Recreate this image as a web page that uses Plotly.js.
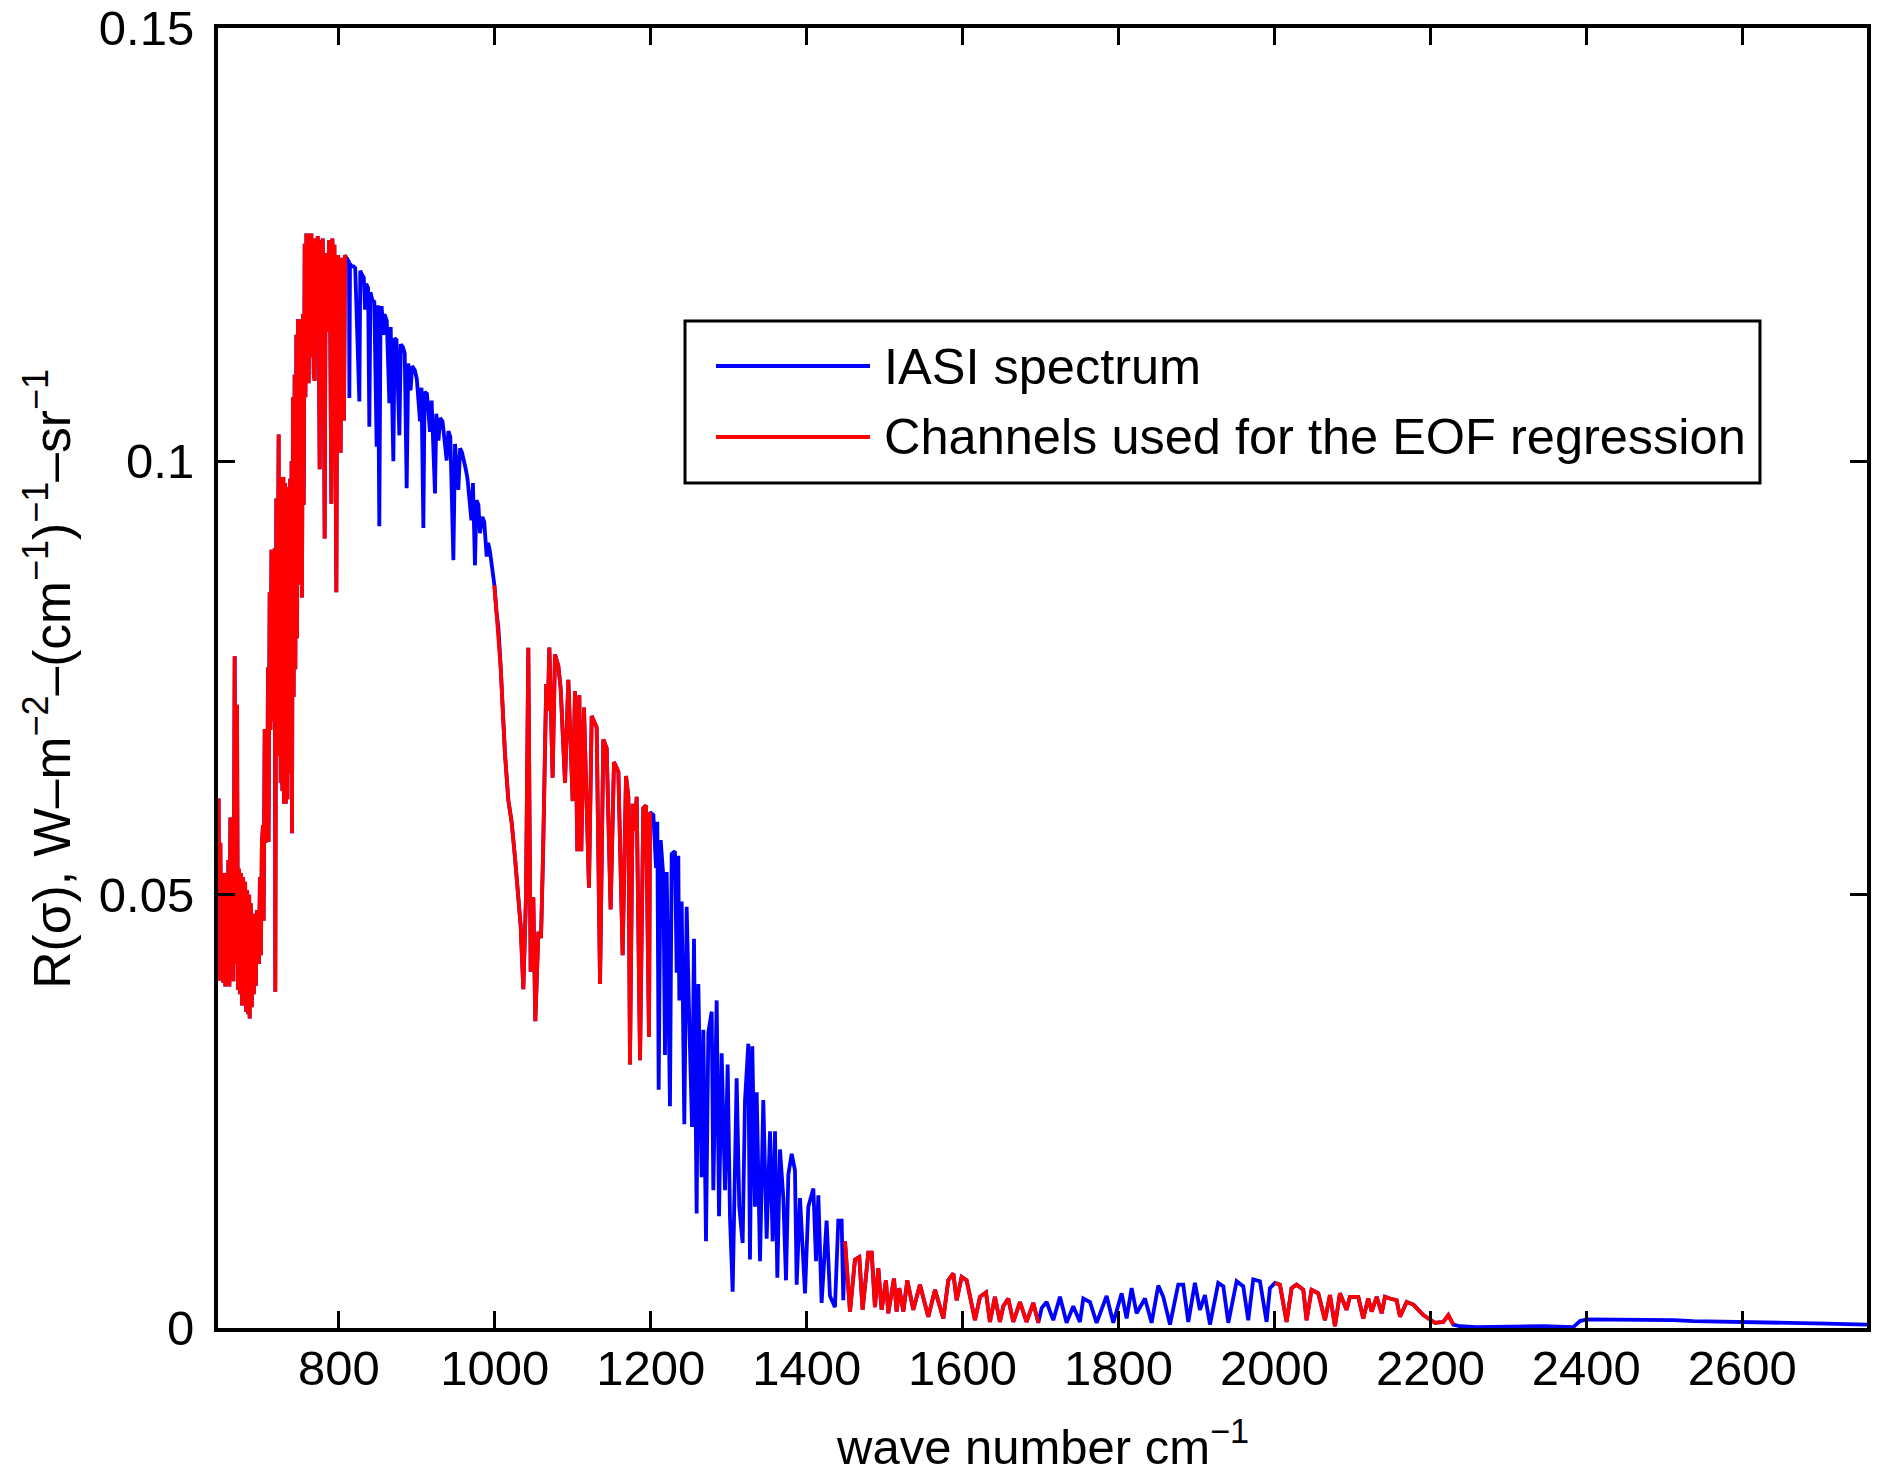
<!DOCTYPE html>
<html>
<head>
<meta charset="utf-8">
<title>IASI spectrum</title>
<script src="https://cdn.plot.ly/plotly-3.0.1.min.js"></script>
<style>
  html, body { margin: 0; padding: 0; background: #ffffff; }
  #chart { width: 1883px; height: 1480px; }
</style>
</head>
<body>
<div id="chart"></div>
<script>
// ── Datos ───────────────────────────────────────────────────────────────────
// número de onda (cm-1) y radiancia R(σ) (W m-2 (cm-1)-1 sr-1)
const wavenumber = [
  // 645–810
  645.0, 645.8, 646.7, 648.0, 649.3, 650.5, 651.8, 653.1, 654.4, 655.7,
  657.0, 658.3, 659.6, 660.9, 662.2, 663.5, 664.8, 666.4, 667.4, 669.4,
  670.6, 672.0, 673.3, 674.6, 675.9, 677.2, 678.5, 679.8, 681.1, 682.4,
  683.7, 685.0, 685.6, 687.0, 688.3, 689.6, 690.9, 692.2, 693.5, 694.8,
  696.3, 697.5, 698.8, 700.0, 701.3, 702.7, 703.5, 704.9, 706.2, 707.5,
  708.3, 709.1, 709.8, 711.3, 712.3, 713.6, 714.3, 715.5, 716.8, 717.8,
  718.5, 719.2, 719.8, 720.8, 722.1, 722.8, 723.6, 724.5, 725.4, 726.6,
  727.5, 728.8, 729.7, 731.0, 731.9, 733.2, 734.1, 735.4, 736.3, 737.6,
  738.5, 739.4, 739.9, 741.2, 742.0, 743.3, 744.2, 745.5, 746.4, 747.6,
  748.5, 749.7, 750.6, 751.9, 752.7, 754.0, 754.9, 756.2, 757.1, 758.4,
  759.2, 760.4, 761.3, 762.6, 763.5, 764.8, 765.6, 766.9, 767.8, 769.0,
  770.3, 771.6, 772.9, 774.1, 775.4, 776.7, 778.0, 779.3, 780.5, 781.8,
  783.1, 784.4, 786.1, 787.4, 788.7, 790.4, 791.7, 793.0, 794.3, 795.5,
  796.8, 797.7, 798.9, 800.2, 801.5, 802.3, 803.6, 804.9, 806.0, 806.6,
  807.9, 809.2,
  // 810–1000
  810.5, 813.0, 813.5, 814.3, 816.5, 819.0, 821.0, 826.3, 827.5, 830.0,
  832.0, 833.6, 835.0, 837.5, 839.1, 840.5, 843.0, 845.5, 848.5, 850.0,
  851.9, 853.5, 855.0, 857.0, 858.5, 861.5, 864.8, 866.5, 869.9, 871.5,
  874.0, 877.6, 879.5, 882.0, 884.5, 887.0, 889.0, 892.0, 894.0, 897.5,
  900.0, 904.1, 906.0, 908.4, 910.0, 913.0, 916.9, 919.0, 923.3, 925.0,
  927.8, 930.0, 933.0, 938.3, 940.5, 943.0, 946.9, 949.0, 953.3, 955.5,
  958.0, 963.0, 965.0, 970.0, 972.0, 974.6, 976.5, 979.0, 981.0, 984.0,
  986.5, 989.6, 991.5, 994.0, 996.0, 998.2,
  // 1000–1200
  999.5, 1002.0, 1004.6, 1007.6, 1010.1, 1013.1, 1017.4, 1021.7, 1025.9, 1030.2,
  1033.2, 1036.6, 1040.0, 1043.0, 1046.0, 1049.4, 1052.0, 1055.9, 1059.3, 1062.0,
  1064.0, 1066.0, 1068.0, 1070.0, 1074.2, 1077.2, 1081.5, 1084.5, 1090.1, 1094.3,
  1099.9, 1102.9, 1105.9, 1108.4, 1111.0, 1114.4, 1120.8, 1124.3, 1130.7, 1135.0,
  1139.2, 1143.5, 1148.6, 1152.9, 1158.5, 1164.0, 1168.3, 1171.3, 1173.4, 1176.8,
  1179.8, 1182.0, 1186.3, 1190.5, 1194.0, 1197.8, 1199.1,
  // 1200–1450
  1203.4, 1206.8, 1208.5, 1210.2, 1212.8, 1216.2, 1218.3, 1220.5, 1224.7, 1226.9,
  1231.1, 1233.3, 1235.4, 1236.7, 1239.7, 1243.1, 1246.1, 1249.5, 1253.0, 1255.5,
  1258.9, 1261.1, 1265.3, 1267.5, 1270.9, 1273.9, 1278.2, 1280.3, 1284.6, 1287.6,
  1291.0, 1295.3, 1298.7, 1301.7, 1305.1, 1310.2, 1313.6, 1317.9, 1320.9, 1325.2,
  1327.3, 1330.3, 1333.7, 1335.9, 1340.2, 1344.4, 1348.7, 1353.0, 1356.4, 1359.4,
  1362.4, 1365.8, 1370.1, 1373.5, 1376.5, 1380.8, 1385.0, 1387.2, 1391.5, 1397.9,
  1402.1, 1408.6, 1412.0, 1415.0, 1419.2, 1425.6, 1429.9, 1436.3, 1440.6, 1444.9,
  1447.0,
  // 1450–1700
  1449.2, 1455.6, 1462.0, 1467.5, 1471.8, 1479.1, 1483.4, 1487.6, 1491.9, 1496.2,
  1501.7, 1504.7, 1512.0, 1515.4, 1518.8, 1524.0, 1529.1, 1536.8, 1545.3, 1556.0,
  1564.6, 1575.3, 1581.7, 1588.1, 1592.4, 1598.8, 1605.2, 1609.5, 1615.9, 1622.3,
  1630.0, 1635.1, 1641.5, 1647.9, 1652.2, 1658.6, 1665.0, 1673.6, 1682.1, 1690.7,
  1697.1,
  // 1700–2000
  1701.4, 1707.8, 1716.3, 1724.9, 1733.4, 1742.0, 1750.5, 1754.8, 1763.4, 1771.9,
  1784.7, 1793.3, 1804.0, 1810.4, 1816.8, 1823.2, 1833.9, 1842.4, 1851.0, 1857.4,
  1866.0, 1876.6, 1883.0, 1889.5, 1898.0, 1904.4, 1910.8, 1917.3, 1927.9, 1934.4,
  1940.8, 1951.5, 1960.0, 1966.4, 1972.8, 1981.4, 1989.9, 1994.2,
  // 2000–2230
  2000.6, 2007.0, 2015.6, 2022.0, 2028.4, 2037.0, 2041.2, 2047.6, 2056.2, 2064.8,
  2071.2, 2077.6, 2084.0, 2092.5, 2096.8, 2107.5, 2113.9, 2120.3, 2124.7, 2131.1,
  2137.5, 2141.8, 2148.2, 2156.7, 2161.0, 2169.6, 2178.1, 2184.5, 2190.9, 2197.3,
  2205.9, 2216.6, 2223.0, 2229.4,
  // 2230–2760
  2238.0, 2259.3, 2302.0, 2344.8, 2383.3, 2391.9, 2400.4, 2409.0, 2494.5, 2511.6,
  2537.2, 2580.0, 2622.7, 2665.5, 2708.2, 2760.0
];

const radiance = [
  // 645–810
  0.0560, 0.0611, 0.0401, 0.0560, 0.0405, 0.0518, 0.0398, 0.0525, 0.0394, 0.0520,
  0.0400, 0.0540, 0.0394, 0.0589, 0.0420, 0.0589, 0.0400, 0.0775, 0.0420, 0.0719,
  0.0390, 0.0530, 0.0385, 0.0525, 0.0372, 0.0520, 0.0380, 0.0515, 0.0365, 0.0505,
  0.0362, 0.0500, 0.0357, 0.0490, 0.0370, 0.0475, 0.0385, 0.0478, 0.0395, 0.0480,
  0.0480, 0.0420, 0.0520, 0.0430, 0.0560, 0.0580, 0.0470, 0.0691, 0.0560, 0.0691,
  0.0590, 0.0762, 0.0561, 0.0849, 0.0690, 0.0898, 0.0700, 0.0880, 0.0720, 0.0900,
  0.0388, 0.0760, 0.0957, 0.0680, 0.0990, 0.1031, 0.0660, 0.0982, 0.0629, 0.0982,
  0.0620, 0.0982, 0.0605, 0.0975, 0.0605, 0.0970, 0.0610, 0.0950, 0.0640, 0.0980,
  0.0650, 0.1000, 0.0571, 0.1074, 0.0728, 0.1100, 0.0760, 0.1146, 0.0796, 0.1164,
  0.0858, 0.1164, 0.0900, 0.1160, 0.0843, 0.1170, 0.0950, 0.1251, 0.1074, 0.1263,
  0.1100, 0.1263, 0.1090, 0.1260, 0.1130, 0.1263, 0.1120, 0.1257, 0.1100, 0.1093,
  0.1257, 0.1150, 0.1260, 0.1180, 0.0991, 0.1255, 0.1160, 0.1257, 0.1150, 0.0911,
  0.1240, 0.1150, 0.1167, 0.1255, 0.1180, 0.0951, 0.1257, 0.1150, 0.1250, 0.1120,
  0.0849, 0.1100, 0.1238, 0.1150, 0.1235, 0.1010, 0.1235, 0.1170, 0.1235, 0.1047,
  0.1238, 0.1235,
  // 810–1000
  0.1234, 0.1230, 0.1073, 0.1228, 0.1225, 0.1225, 0.1223, 0.1069, 0.1220, 0.1215,
  0.1212, 0.1175, 0.1205, 0.1200, 0.1040, 0.1195, 0.1186, 0.1184, 0.1017, 0.1180,
  0.0925, 0.1177, 0.1177, 0.1146, 0.1170, 0.1162, 0.1067, 0.1155, 0.1000, 0.1142,
  0.1140, 0.1030, 0.1135, 0.1132, 0.1125, 0.0969, 0.1113, 0.1082, 0.1110, 0.1105,
  0.1095, 0.1046, 0.1085, 0.0923, 0.1080, 0.1078, 0.1034, 0.1070, 0.0963, 0.1055,
  0.1024, 0.1050, 0.1046, 0.1001, 0.1035, 0.1028, 0.0886, 0.1020, 0.0967, 0.1015,
  0.1010, 0.0990, 0.0980, 0.0932, 0.0975, 0.0880, 0.0955, 0.0950, 0.0917, 0.0936,
  0.0930, 0.0890, 0.0906, 0.0895, 0.0880, 0.0859,
  // 1000–1200
  0.0857, 0.0828, 0.0808, 0.0762, 0.0715, 0.0662, 0.0609, 0.0583, 0.0543, 0.0497,
  0.0464, 0.0391, 0.0497, 0.0785, 0.0411, 0.0497, 0.0354, 0.0457, 0.0450, 0.0550,
  0.0680, 0.0743, 0.0712, 0.0785, 0.0635, 0.0777, 0.0764, 0.0738, 0.0629, 0.0748,
  0.0608, 0.0735, 0.0550, 0.0730, 0.0550, 0.0716, 0.0508, 0.0706, 0.0693, 0.0397,
  0.0679, 0.0669, 0.0483, 0.0653, 0.0642, 0.0430, 0.0637, 0.0613, 0.0304, 0.0605,
  0.0574, 0.0613, 0.0309, 0.0600, 0.0603, 0.0336, 0.0595,
  // 1200–1450
  0.0592, 0.0531, 0.0584, 0.0275, 0.0563, 0.0521, 0.0315, 0.0526, 0.0256, 0.0547,
  0.0550, 0.0410, 0.0545, 0.0378, 0.0492, 0.0235, 0.0486, 0.0352, 0.0232, 0.0449,
  0.0132, 0.0397, 0.0174, 0.0344, 0.0100, 0.0341, 0.0365, 0.0159, 0.0378, 0.0129,
  0.0317, 0.0159, 0.0304, 0.0127, 0.0042, 0.0288, 0.0140, 0.0098, 0.0262, 0.0328,
  0.0079, 0.0325, 0.0140, 0.0272, 0.0077, 0.0263, 0.0103, 0.0227, 0.0100, 0.0227,
  0.0058, 0.0206, 0.0150, 0.0055, 0.0177, 0.0201, 0.0182, 0.0050, 0.0150, 0.0040,
  0.0140, 0.0161, 0.0077, 0.0153, 0.0029, 0.0124, 0.0037, 0.0024, 0.0124, 0.0124,
  0.0032,
  // 1450–1700
  0.0100, 0.0019, 0.0079, 0.0082, 0.0021, 0.0087, 0.0087, 0.0024, 0.0069, 0.0021,
  0.0055, 0.0017, 0.0057, 0.0019, 0.0046, 0.0019, 0.0055, 0.0021, 0.0050, 0.0013,
  0.0044, 0.0011, 0.0055, 0.0063, 0.0032, 0.0059, 0.0055, 0.0036, 0.0009, 0.0036,
  0.0041, 0.0007, 0.0036, 0.0007, 0.0025, 0.0034, 0.0007, 0.0030, 0.0007, 0.0029,
  0.0006,
  // 1700–2000
  0.0023, 0.0030, 0.0009, 0.0036, 0.0006, 0.0025, 0.0007, 0.0034, 0.0030, 0.0006,
  0.0037, 0.0006, 0.0040, 0.0011, 0.0046, 0.0017, 0.0034, 0.0006, 0.0049, 0.0036,
  0.0004, 0.0050, 0.0050, 0.0007, 0.0052, 0.0021, 0.0038, 0.0004, 0.0052, 0.0048,
  0.0006, 0.0054, 0.0048, 0.0009, 0.0056, 0.0054, 0.0007, 0.0046,
  // 2000–2230
  0.0052, 0.0050, 0.0007, 0.0046, 0.0050, 0.0044, 0.0009, 0.0044, 0.0040, 0.0009,
  0.0038, 0.0002, 0.0040, 0.0021, 0.0036, 0.0036, 0.0011, 0.0034, 0.0019, 0.0036,
  0.0017, 0.0036, 0.0034, 0.0032, 0.0013, 0.0030, 0.0027, 0.0021, 0.0015, 0.0011,
  0.0006, 0.0007, 0.0015, 0.0004,
  // 2230–2760
  0.0002, 0.0001, 0.0002, 0.0002, 0.0001, 0.0008, 0.0010, 0.0010, 0.0010, 0.0009,
  0.0008, 0.0007, 0.0006, 0.0005, 0.0005, 0.0004
];

// bandas de canales usados en la regresión EOF (cm-1)
const eofBands = [[645, 809.5], [999, 1199.5], [1448, 1699], [1999, 2230]];

const xTicks = [800, 1000, 1200, 1400, 1600, 1800, 2000, 2200, 2400, 2600];
const yTicks = [0, 0.05, 0.1, 0.15];
const yTickText = ['0', '0.05', '0.1', '0.15'];

const legendNames = ['IASI spectrum', 'Channels used for the EOF regression'];
const xTitle = 'wave number cm<sup>−1</sup>';
const yTitle = 'R(σ), W–m<sup>−2</sup>–(cm<sup>−1</sup>)<sup>−1</sup>–sr<sup>−1</sup>';

// ── Estilo ──────────────────────────────────────────────────────────────────
const C = { blue: '#0000ff', red: '#ff0000', ink: '#000000' };
const FONT = 'Liberation Sans, Arial, Helvetica, sans-serif';
const FS = 49;
const LW = 3.8;   // grosor del trazo espectral

// canales EOF: misma serie, null fuera de las bandas
function inEof(w) {
  return eofBands.some(b => w >= b[0] && w <= b[1]);
}
const radianceEof = radiance.map((r, i) => inEof(wavenumber[i]) ? r : null);

const traces = [
  { type: 'scatter', mode: 'lines', name: legendNames[0],
    x: wavenumber, y: radiance, line: { color: C.blue, width: LW } },
  { type: 'scatter', mode: 'lines', name: legendNames[1],
    x: wavenumber, y: radianceEof, connectgaps: false,
    line: { color: C.red, width: LW } },
];

const axisBase = {
  showline: true, linecolor: C.ink, linewidth: 4, mirror: 'ticks',
  ticks: 'inside', ticklen: 17, tickwidth: 3, tickcolor: C.ink,
  showgrid: false, zeroline: false,
  tickfont: { family: FONT, size: FS, color: C.ink },
};

// leyenda dibujada a mano (la de Plotly no permite el trazo largo)
const LEG = { x0: 0.2832, x1: 0.9351, y0: 0.650, y1: 0.7746,
              lx0: 0.302, lx1: 0.3954, tx: 0.4027, rows: [0.740, 0.6854] };

const shapes = [
  { type: 'rect', xref: 'paper', yref: 'paper',
    x0: LEG.x0, x1: LEG.x1, y0: LEG.y0, y1: LEG.y1,
    line: { color: C.ink, width: 3 }, fillcolor: '#ffffff' },
  { type: 'line', xref: 'paper', yref: 'paper',
    x0: LEG.lx0, x1: LEG.lx1, y0: LEG.rows[0], y1: LEG.rows[0],
    line: { color: C.blue, width: LW } },
  { type: 'line', xref: 'paper', yref: 'paper',
    x0: LEG.lx0, x1: LEG.lx1, y0: LEG.rows[1], y1: LEG.rows[1],
    line: { color: C.red, width: LW } },
];

const annotations = legendNames.map((t, i) => ({
  xref: 'paper', yref: 'paper', x: LEG.tx, y: LEG.rows[i],
  xanchor: 'left', yanchor: 'middle', showarrow: false, text: t,
  font: { family: FONT, size: 50.5, color: C.ink },
}));

// títulos de los ejes como anotaciones (posición ajustada a la figura)
annotations.push({
  xref: 'paper', yref: 'paper', x: 0.5, y: -0.063,
  xanchor: 'center', yanchor: 'top', showarrow: false, text: xTitle,
  font: { family: FONT, size: FS, color: C.ink },
});
annotations.push({
  xref: 'paper', yref: 'paper', x: -0.1031, y: 0.4995,
  xanchor: 'center', yanchor: 'middle', showarrow: false, textangle: -90,
  text: yTitle, font: { family: FONT, size: 51.5, color: C.ink },
});

const layout = {
  width: 1883, height: 1480,
  paper_bgcolor: '#ffffff', plot_bgcolor: '#ffffff',
  margin: { l: 218, r: 16, t: 28, b: 152 },
  showlegend: false,
  font: { family: FONT, size: FS, color: C.ink },
  xaxis: Object.assign({}, axisBase, {
    range: [645, 2760], tickvals: xTicks, ticklabelstandoff: -6,
  }),
  yaxis: Object.assign({}, axisBase, {
    range: [0, 0.15], tickvals: yTicks, ticktext: yTickText, ticklabelstandoff: 10,
  }),
  shapes: shapes,
  annotations: annotations,
};

Plotly.newPlot('chart', traces, layout, { displayModeBar: false, responsive: false });
</script>
</body>
</html>
